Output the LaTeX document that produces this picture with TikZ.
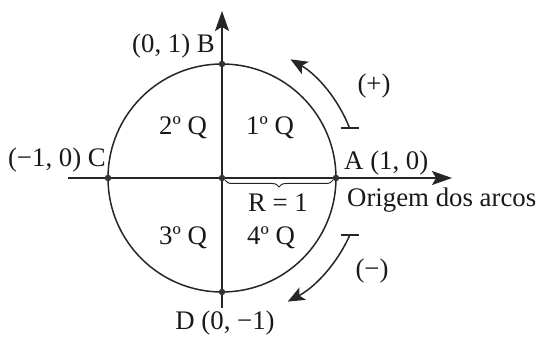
\documentclass[tikz,border=0pt]{standalone}
\usepackage{fontspec}
\setmainfont{Liberation Serif}
\usetikzlibrary{arrows.meta,decorations.pathreplacing,calc}
\begin{document}
\begin{tikzpicture}[x=1pt,y=1pt,
  lbl/.style={font=\fontsize{26.8}{30}\selectfont, inner sep=0pt, text=black!90},
  ln/.style={line width=1.5pt, draw=black!85},
  bigtip/.style={-{Stealth[length=20pt,width=14pt,inset=4pt]}},
  arctip/.style={-{Stealth[length=17pt,width=14pt,inset=4pt]}},
  dot/.style={circle, fill=black!80, inner sep=0pt, minimum size=6.5pt}]
\useasboundingbox (0,0) rectangle (538,339);
\coordinate (O) at (222,161);
\coordinate (xs) at (68,161);
\coordinate (xe) at (452,161);
\coordinate (ys) at (222,31);
\coordinate (ye) at (222,328);
% circle
\draw[ln] (O) circle[radius=114];
% axes
\draw[ln,bigtip] (xs) -- (xe);
\draw[ln,bigtip] (ys) -- (ye);
% points
\node[dot] (A) at ($(O)+(114,0)$) {};
\node[dot] (B) at ($(O)+(0,114)$) {};
\node[dot] (C) at ($(O)+(-114,0)$) {};
\node[dot] (D) at ($(O)+(0,-114)$) {};
\node[dot] (Oc) at (O) {};
% brace
\draw[line width=1pt, draw=black!85, decorate, decoration={brace, mirror, amplitude=7pt}]
  ($(Oc.center)+(3,-2)$) -- ($(A.center)+(-3,-2)$);
% arcs
\coordinate (p1) at ($(O)+(21.3:137)$);
\coordinate (p2) at ($(O)+(-24:140)$);
\draw[ln] ($(p1)+(-9,0)$) -- ($(p1)+(9,0)$);
\draw[ln,arctip] (p1) arc[start angle=21.3, end angle=60, radius=137];
\draw[ln] ($(p2)+(-9,0)$) -- ($(p2)+(9,0)$);
\draw[ln,arctip] (p2) arc[start angle=-24, end angle=-62, radius=140];
% labels
\node[lbl, anchor=base east] (lB) at (215,286) {(0, 1) B};
\node[lbl, anchor=base east] (lC) at (106,172) {(−1, 0) C};
\node[lbl, anchor=base west] (lA) at (344,169) {A (1, 0)};
\node[lbl, anchor=base west] (lO) at (347,132) {Origem dos arcos};
\node[lbl, anchor=base] (lR) at (278,127) {R = 1};
\node[lbl, anchor=base] (lD) at (225,9) {D (0, −1)};
\node[lbl, anchor=base] (q2) at (183,204) {2º Q};
\node[lbl, anchor=base] (q1) at (270,204) {1º Q};
\node[lbl, anchor=base] (q3) at (183,94) {3º Q};
\node[lbl, anchor=base] (q4) at (271,94) {4º Q};
\node[lbl, anchor=base] (lp) at (374,246) {(+)};
\node[lbl, anchor=base] (lm) at (372,61) {(−)};
\end{tikzpicture}
\end{document}
